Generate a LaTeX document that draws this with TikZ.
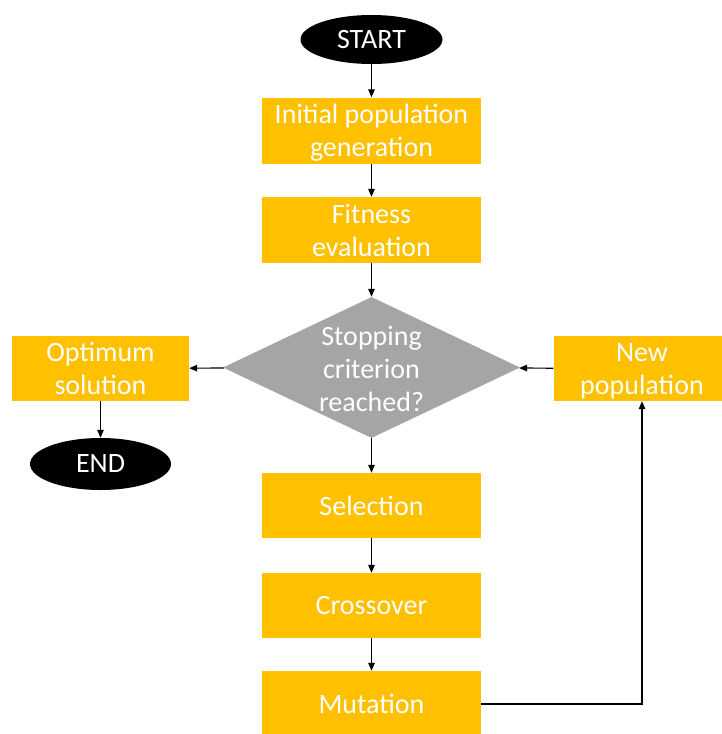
\documentclass[tikz,border=0pt]{standalone}
\usepackage{fontspec}
\setmainfont{Carlito}
\usetikzlibrary{shapes.geometric,arrows.meta}
\definecolor{gold}{HTML}{FFC000}
\definecolor{midgray}{HTML}{A5A5A5}
\begin{document}
\begin{tikzpicture}[x=1pt,y=-1pt,
  every node/.style={font=\fontsize{28}{33}\selectfont, text=white, align=center, inner sep=0pt},
  twoline/.style={text height=53pt, text depth=1pt},
  stepbox/.style={rectangle, fill=gold, minimum width=219pt, minimum height=66pt},
  sidebox/.style={rectangle, fill=gold, minimum width=177pt, minimum height=65pt, twoline},
  terminal/.style={ellipse, fill=black, minimum width=142pt, minimum height=49pt},
  decision/.style={diamond, fill=midgray, minimum width=297pt, minimum height=141pt, aspect=2.1},
  flow/.style={draw=black, line width=1.2pt, -{Triangle[length=8pt,width=6.5pt]}}]
\useasboundingbox (0,0) rectangle (721,734);

\node[terminal] (start) at (371.5,39.5) {START};
\node[stepbox, twoline] (init) at (371.5,130.5) {Initial population\\generation};
\node[stepbox, twoline] (fit) at (371.5,230) {Fitness\\evaluation};
\node[decision] (stop) at (371.5,367.5) {};
\node at (371.5,368.5) {Stopping\\criterion\\reached?};
\node[sidebox] (opt) at (100.5,368.5) {Optimum\\solution};
\node[terminal, minimum width=141pt, minimum height=52pt] (end) at (100.5,464) {END};
\node[sidebox] (newpop) at (642,368.5) {New\\population};
\node[stepbox, minimum height=65pt] (sel) at (371.5,505.5) {Selection};
\node[stepbox, minimum height=65pt] (cross) at (371.5,605.5) {Crossover};
\node[stepbox] (mut) at (371.5,704) {Mutation};

\draw[flow] (start) -- (init);
\draw[flow] (init) -- (fit);
\draw[flow] (fit) -- (stop);
\draw[flow] (stop) -- (opt);
\draw[flow] (opt) -- (end);
\draw[flow] (stop) -- (sel);
\draw[flow] (sel) -- (cross);
\draw[flow] (cross) -- (mut);
\draw[flow] (mut.east) -| (newpop.south);
\draw[flow] (newpop) -- (stop);
\end{tikzpicture}
\end{document}
